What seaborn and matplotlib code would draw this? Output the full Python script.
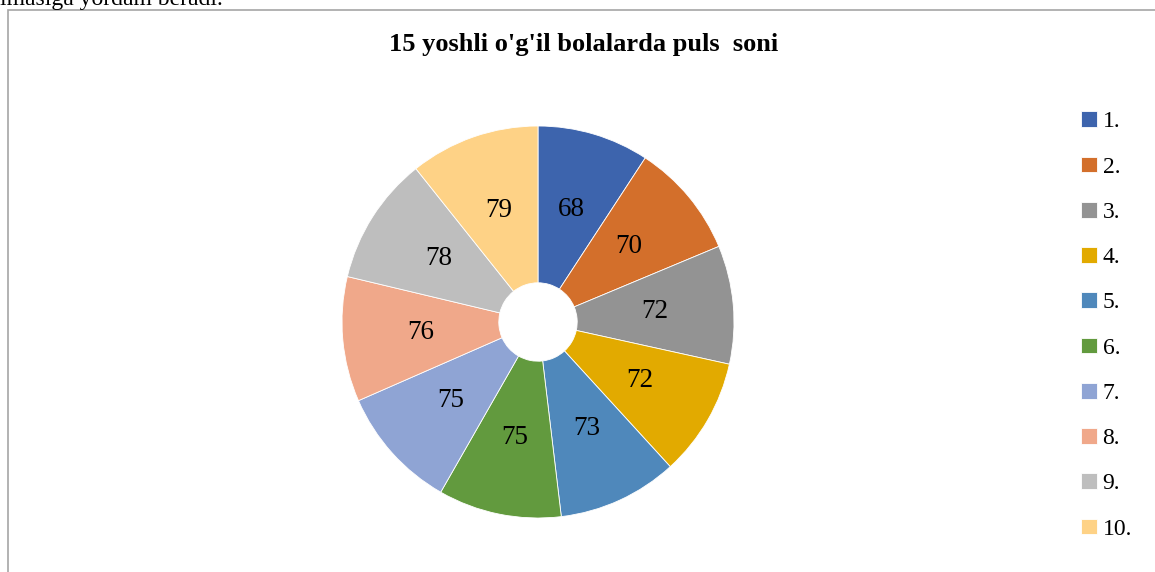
import matplotlib
matplotlib.use("Agg")
import matplotlib.pyplot as plt
from matplotlib.patches import Rectangle
import seaborn as sns

categories = ["1.", "2.", "3.", "4.", "5.", "6.", "7.", "8.", "9.", "10."]
values = [68, 70, 72, 72, 73, 75, 75, 76, 78, 79]
colors = ["#3D64AD", "#D36F2B", "#939393", "#E2AA00", "#4F88BB",
          "#629A3E", "#8FA4D4", "#F0A88A", "#BEBEBE", "#FED286"]
title = "15 yoshli o'g'il bolalarda puls  soni"
top_text = "lmasiga yordam beradi."

sns.set_theme(style="white")
palette = sns.color_palette(colors)
plt.rcParams['font.family'] = ['Liberation Serif', 'DejaVu Serif']
plt.rcParams['text.color'] = 'black'

W, H = 1155, 572
fig = plt.figure(figsize=(W / 100, H / 100), dpi=100)
fig.patch.set_facecolor("white")

# outer frame (partially cut)
fig.patches.append(Rectangle((8 / W, -0.2), 1.2, 1 - 10 / H + 0.2,
                             transform=fig.transFigure, fill=False,
                             edgecolor="#A6A6A6", linewidth=1.2))
fig.text(0 / W, 1 - 5 / H, top_text, fontsize=17, va="baseline", ha="left",
         color="black")

cx, cy, R = 538, 322, 196
ax = fig.add_axes([(cx - R) / W, (H - cy - R) / H, 2 * R / W, 2 * R / H])
wedges, texts, autotexts = ax.pie(
    values, colors=palette, startangle=90, counterclock=False,
    radius=1.0, autopct=lambda p: "", pctdistance=0.6,
    wedgeprops=dict(width=0.8, edgecolor="white", linewidth=0.6))
for t, v in zip(autotexts, values):
    t.set_text(str(v))
    t.set_fontsize(19.5)
    t.set_color("black")
ax.set_xlim(-1, 1)
ax.set_ylim(-1, 1)
ax.set_aspect("equal")
ax.axis("off")

fig.text(584 / W, 1 - 45 / H, title, fontsize=19, fontweight="bold",
         ha="center", va="center", color="black")

leg = fig.legend(wedges, categories, loc="upper left",
                 bbox_to_anchor=(1060 / W, 1 - 90 / H), frameon=False,
                 fontsize=17, handlelength=0.65, handleheight=0.65,
                 handletextpad=0.25, labelspacing=1.02)
for t in leg.get_texts():
    t.set_color("black")

fig.savefig("out.png", dpi=100, facecolor="white")
